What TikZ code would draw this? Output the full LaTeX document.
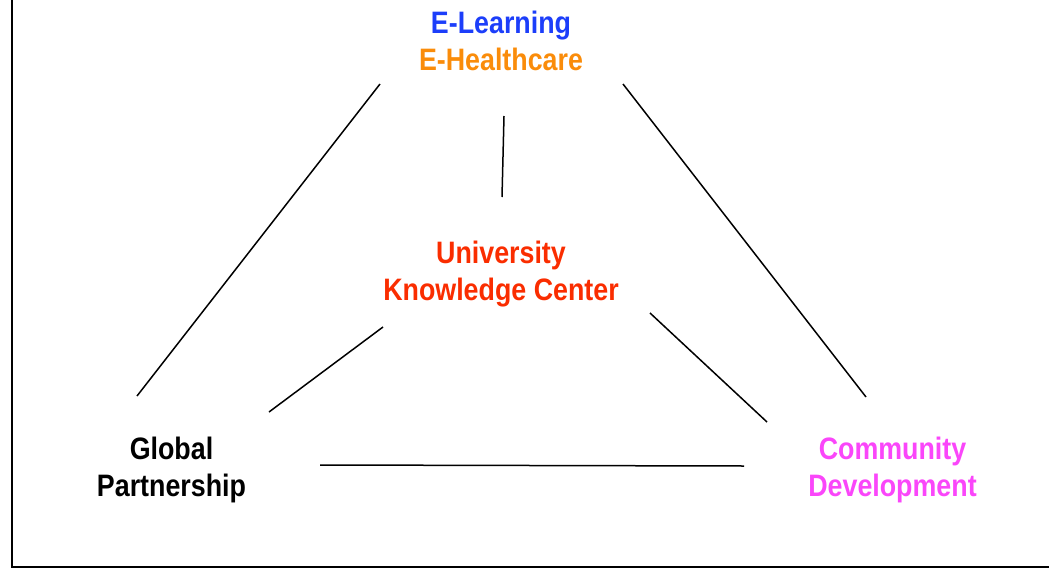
\documentclass[tikz,border=0pt]{standalone}
\usepackage{fontspec}
\setmainfont{Liberation Sans}[FakeStretch=0.865]
\usetikzlibrary {positioning}
\definecolor{learnblue}{RGB}{28,62,250}
\definecolor{healthorange}{RGB}{250,140,10}
\definecolor{unired}{RGB}{250,45,0}
\definecolor{commpink}{RGB}{250,70,250}
\tikzset{
areatext/.style={align=center,inner sep=0pt,anchor=base,font=\bfseries\fontsize{31}{37}\selectfont}
}
\tikzset{
link/.style={draw=black,line width=1.5pt}
}

\begin{document}
\begin{tikzpicture}[x=1pt,y=-1pt]
\useasboundingbox (0,0) rectangle (1049,570);
\draw[line width=1.5pt] (12,0) -- (12,567) -- (1049,567);

\node[areatext] (top) at (501,70) {\textcolor{learnblue}{E-Learning}\\\textcolor{healthorange}{E-Healthcare}};
\node[areatext,text=unired] (uni) at (501,300) {University\\Knowledge Center};
\node[areatext] (glob) at (171.5,496) {Global\\Partnership};
\node[areatext,text=commpink] (comm) at (892.5,496) {Community\\Development};
%------------------------------------------------------------------------------------------------------------%
\coordinate (topL) at (380,84);
\coordinate (topM) at (504,116);
\coordinate (topR) at (623,84);
\coordinate (uniT) at (502,197);
\coordinate (uniL) at (383,327);
\coordinate (uniR) at (650,313);
\coordinate (globT) at (137,396);
\coordinate (globR) at (269,412);
\coordinate (globB) at (320,465);
\coordinate (commT) at (866,397);
\coordinate (commL) at (767,422);
\coordinate (commB) at (744,466);

\draw[link] (topL) -- (globT);
\draw[link] (topM) -- (uniT);
\draw[link] (topR) -- (commT);
\draw[link] (uniL) -- (globR);
\draw[link] (uniR) -- (commL);
\draw[link] (globB) -- (commB);
%\draw (uni) -- (comm);

\end{tikzpicture}
\end{document}
